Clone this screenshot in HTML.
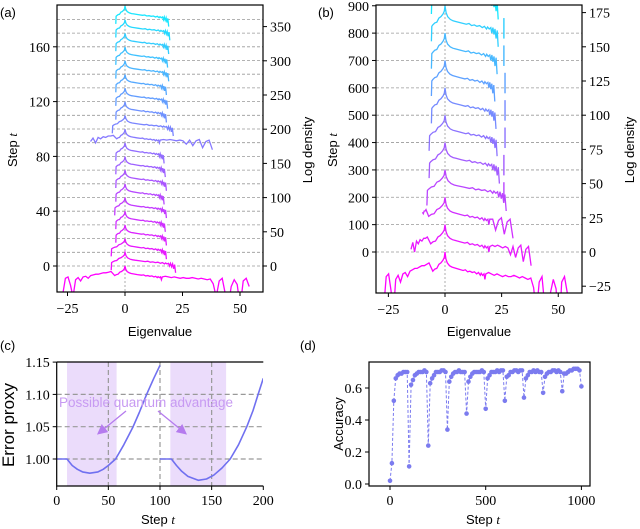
<!DOCTYPE html>
<html><head><meta charset="utf-8"><style>
html,body{margin:0;padding:0;background:#fff;}
svg{display:block;}
.tk{font-family:"Liberation Serif",serif;font-size:14px;fill:#000;}
.lb{font-family:"Liberation Sans",sans-serif;font-size:13px;fill:#000;}
</style></head><body>
<svg id="fig" width="640" height="529" viewBox="0 0 640 529" xmlns="http://www.w3.org/2000/svg">
<defs>
<clipPath id="clipA"><rect x="57" y="5" width="206" height="287"/></clipPath>
<clipPath id="clipB"><rect x="376" y="5" width="206" height="288"/></clipPath>
<clipPath id="clipC"><rect x="57" y="362" width="206" height="124"/></clipPath>
<marker id="arr" markerWidth="8" markerHeight="8" refX="6" refY="4" orient="auto"><path d="M0,0 L8,4 L0,8 z" fill="#b57bee"/></marker>
</defs>
<text class="lb" x="0" y="17">(a)</text>
<text class="lb" x="318" y="17">(b)</text>
<text class="lb" x="0" y="350">(c)</text>
<text class="lb" x="300" y="350">(d)</text>
<g id="pa"></g>
<g id="pb"></g>
<g id="pc"></g>
<g id="pd"></g>
</svg>
<script>
// ---------- data ----------
const leftTplV = [1, 0.97, 0.9, 0.75, 0.6, 0.45, 0.3, 0.15, 0.05, 0];
const leftTplVal = [-26, -15, -14, -12.5, -12, -9, -8, -6, -4, 0];
const rightTplU = [0,0.02,0.05,0.1,0.15,0.2,0.3,0.4,0.45,0.5,0.55,0.6,0.65,0.7,0.74,0.78,0.8,0.83,0.86,0.88,0.9,0.92,0.94,0.96,0.98,1];
const rightTplVal = [0,-5,-8,-10,-11,-11.5,-12.5,-13.5,-13,-14.5,-14,-15,-14.5,-16,-15,-17,-15.5,-17,-16,-20,-16,-21,-17,-24,-18,-30];
// panel a curves: left edge, right edge
const aL = [-5,-6,-6,-4,-4,-4.5,-4,-4,-4,-4,-4,-5.5,-4,-4,-4,-4,-4,-4,-4,-4];
const aR = [18,22,18,18,17.5,18,17,18,17.5,17,17,21,18,18.5,18,19,18.5,19,19.5,19];
const aTailL0 = [-27,null,null,null,null,null,null,null,null,null,-15,null,null,null,null,null,null,null,null,null];
const aTailR1 = [54,null,null,null,null,null,null,null,null,null,38,null,null,null,null,null,null,null,null,null];
const tailLeftWide = [-40,-18,-16,-28,-45,-20,-17,-22,-16,-15,-18,-14,-13,-12,-12,-11,-10,-10,-9,-8];
const tailRightWide = [-15,-16,-17,-16,-17,-18,-17,-18,-18,-17,-18,-19,-18,-19,-20,-19,-26,-45,-22,-18,-40,-60,-30,-20,-27,-60,-22,-18,-30];
const tailLeftMid = [-18,-13,-20,-12,-14,-11,-12,-10,-10,-9];
const tailRightMid = [-15,-16,-15,-16,-17,-16,-17,-22,-16,-24,-17,-15,-27,-18,-16,-30];
// panel b curves
const bL = [-6,-7,-8,-8,-7,-7,-6,-6,-6,-6,-6];
const bR = [20,22,22,27,24,23,22.5,22,23,23.5,23.5];
const bTailL0 = [-27,-15,-10,null,null,null,null,null,null,null,null];
const bTailR1 = [54,38,30,null,null,null,null,null,null,null,null];
const bSpike = [null,null,null,26,26,26.5,26.5,26.5,26,26,null];
// panel c
const c1T = [0,10,15,20,25,32,40,45,50,57,65,74,80,87,94,100];
const c1V = [1,1,0.99,0.984,0.98,0.978,0.98,0.984,0.99,1,1.022,1.05,1.072,1.1,1.125,1.145];
const c2T = [100,111,116,121,127,137,145,152,160,168,176,184,190,195,200];
const c2V = [1,1,0.99,0.981,0.973,0.967,0.969,0.975,0.986,1,1.022,1.05,1.075,1.1,1.125];
const cXTicks = [0,50,100,150,200];
const cYTicks = [1.00,1.05,1.10,1.15];
const cYLabels = ["1.00","1.05","1.10","1.15"];
const cShade = [[10,58],[110,164]];
// panel d
const dAcc = [
0.02,0.13,0.52,0.66,0.68,0.69,0.69,0.70,0.70,0.70,
0.11,0.62,0.65,0.68,0.69,0.70,0.70,0.70,0.71,0.70,
0.24,0.63,0.66,0.68,0.70,0.70,0.70,0.71,0.71,0.70,
0.34,0.64,0.67,0.69,0.70,0.70,0.71,0.70,0.70,0.70,
0.44,0.64,0.67,0.69,0.70,0.70,0.70,0.70,0.71,0.70,
0.47,0.66,0.68,0.70,0.70,0.70,0.71,0.70,0.71,0.71,
0.52,0.67,0.68,0.70,0.70,0.71,0.71,0.70,0.71,0.71,
0.54,0.66,0.68,0.70,0.70,0.71,0.70,0.71,0.70,0.70,
0.57,0.67,0.69,0.70,0.70,0.71,0.71,0.70,0.71,0.70,
0.58,0.69,0.69,0.70,0.71,0.71,0.72,0.72,0.72,0.71,
0.61];
const dXTicks = [0,500,1000];
const dYTicks = [0,0.2,0.4,0.6];
const aLeftTicks = [0,40,80,120,160];
const aRightTicks = [0,50,100,150,200,250,300,350];
const bLeftTicks = [0,100,200,300,400,500,600,700,800,900];
const bRightTicks = [-25,0,25,50,75,100,125,150,175];
const eigTicks = [-25,0,25,50];

// ---------- helpers ----------
const NS="http://www.w3.org/2000/svg";
function mk(tag, attrs, parent){const e=document.createElementNS(NS,tag);for(const k in attrs)e.setAttribute(k,attrs[k]);parent.appendChild(e);return e;}
function col(k,n){const t=k/(n-1)*0.9;return `rgb(${Math.round(255*(1-t))},${Math.round(255*t)},255)`;}
function fmt(v){return v<0?"\u2212"+Math.abs(v):""+v;}

function curvePts(L,R,tl0,tr1,tailL,tailR,p){
  const pts=[];
  if(tl0!==null){const n=tailL.length;for(let i=0;i<n;i++){pts.push([tl0+(L-tl0)*i/n,p+tailL[i]]);}}
  for(let i=(tl0!==null?2:0);i<leftTplV.length;i++)pts.push([L*leftTplV[i],p+leftTplVal[i]]);
  const cut = tr1!==null?0.9:1.01;
  for(let i=1;i<rightTplU.length;i++){if(rightTplU[i]<=cut)pts.push([R*rightTplU[i],p+rightTplVal[i]]);}
  if(tr1!==null){const n=tailR.length;const s=R*0.9;for(let i=1;i<=n;i++)pts.push([s+(tr1-s)*i/n,p+tailR[i-1]]);}
  return pts;
}

function eigPanel(g,box,xs,ldY,stepY,leftTicks,rightTicks,gridSteps,Ls,Rs,TL,TR,spikes,clip,tails){
  gridSteps.forEach(s=>{const y=stepY(s);const l=mk('line',{x1:box[0],x2:box[1],y1:y,y2:y,stroke:'#999','stroke-width':0.8,'stroke-dasharray':'3,2'},g);
  
  });
  const v=mk('line',{x1:xs(0),x2:xs(0),y1:box[2],y2:box[3],stroke:'#999','stroke-width':0.8,'stroke-dasharray':'2,2'},g);
  
  
  const cg=mk('g',{'clip-path':`url(#${clip})`},g);
  const n=Ls.length;
  for(let k=0;k<n;k++){
    const p=20*k;
    const tl=tails[k]||[tailLeftWide,tailRightWide];
    const pts=curvePts(Ls[k],Rs[k],TL[k],TR[k],tl[0],tl[1],p);
    const d=pts.map((q,i)=>(i?'L':'M')+xs(q[0]).toFixed(1)+','+ldY(q[1]).toFixed(1)).join('');
    const path=mk('path',{d:d,fill:'none',stroke:col(k,n),'stroke-width':1.3},cg);
    
    
    if(spikes&&spikes[k]!==null){const sp=mk('line',{x1:xs(spikes[k]),x2:xs(spikes[k]),y1:ldY(p-9),y2:ldY(p-24),stroke:col(k,n),'stroke-width':1.4},cg);
      
      }
  }
  const fr=mk('rect',{x:box[0],y:box[2],width:box[1]-box[0],height:box[3]-box[2],fill:'none',stroke:'#000','stroke-width':1.2},g);
  
  
  leftTicks.forEach(s=>{const y=stepY(s);mk('line',{x1:box[0]-4,x2:box[0],y1:y,y2:y,stroke:'#000'},g);
    const t=mk('text',{x:box[0]-7,y:y+5,'text-anchor':'end',class:'tk'},g);t.textContent=s;
    
    });
  rightTicks.forEach(s=>{const y=ldY(s);mk('line',{x1:box[1],x2:box[1]+4,y1:y,y2:y,stroke:'#000'},g);
    const t=mk('text',{x:box[1]+7,y:y+5,class:'tk'},g);t.textContent=fmt(s);
    
    });
  eigTicks.forEach(e=>{const x=xs(e);mk('line',{x1:x,x2:x,y1:box[3],y2:box[3]+4,stroke:'#000'},g);
    const t=mk('text',{x:x,y:box[3]+21,'text-anchor':'middle',class:'tk'},g);t.textContent=fmt(e);
    
    });
}

// ---------- panel a ----------
(function(){
  const g=document.getElementById('pa');
  const xs=e=>125+e*2.3, ldY=l=>266-l*0.684, stepY=s=>266-s*1.37;
  const grid=[];for(let s=0;s<=180;s+=10)grid.push(s);
  const tails={10:[tailLeftMid,tailRightMid]};
  eigPanel(g,[57,263,5,292],xs,ldY,stepY,aLeftTicks,aRightTicks,grid,aL,aR,aTailL0,aTailR1,null,'clipA',tails);
  let t=mk('text',{x:160,y:336,'text-anchor':'middle',class:'lb'},g);t.textContent='Eigenvalue';
  
  
  t=mk('text',{x:0,y:0,'text-anchor':'middle',class:'lb',transform:'translate(17,150) rotate(-90)'},g);t.innerHTML='Step <tspan font-style="italic" font-family="Liberation Serif">t</tspan>';
  
  
  t=mk('text',{x:0,y:0,'text-anchor':'middle',class:'lb',transform:'translate(312,150) rotate(-90)'},g);t.textContent='Log density';
  
  
})();

// ---------- panel b ----------
(function(){
  const g=document.getElementById('pb');
  const xs=e=>445+e*2.265, ldY=l=>252-l*1.368, stepY=s=>252-s*0.2736;
  const grid=[];for(let s=0;s<=800;s+=100)grid.push(s);
  const tails={1:[tailLeftMid,tailRightMid],2:[tailLeftMid.slice(5),tailRightMid.slice(8)]};
  eigPanel(g,[376,582,5,293],xs,ldY,stepY,bLeftTicks,bRightTicks,grid,bL,bR,bTailL0,bTailR1,bSpike,'clipB',tails);
  let t=mk('text',{x:479,y:336,'text-anchor':'middle',class:'lb'},g);t.textContent='Eigenvalue';
  
  
  t=mk('text',{x:0,y:0,'text-anchor':'middle',class:'lb',transform:'translate(337,150) rotate(-90)'},g);t.innerHTML='Step <tspan font-style="italic" font-family="Liberation Serif">t</tspan>';
  
  
  t=mk('text',{x:0,y:0,'text-anchor':'middle',class:'lb',transform:'translate(634,150) rotate(-90)'},g);t.textContent='Log density';
  
  
})();

// ---------- panel c ----------
(function(){
  const g=document.getElementById('pc');
  const cx=t=>56.7+t*1.033, cy=v=>459-(v-1)*646;
  const box=[56.7,263.3,362,486];
  cShade.forEach(s=>{const r=mk('rect',{x:cx(s[0]),y:box[2],width:cx(s[1])-cx(s[0]),height:box[3]-box[2],fill:'#ebdcfb'},g);
    
    });
  [1.00,1.05,1.10].forEach(v=>{const l=mk('line',{x1:box[0],x2:box[1],y1:cy(v),y2:cy(v),stroke:'#999','stroke-width':1.2,'stroke-dasharray':'5,3'},g);
    
    });
  [50,100,150].forEach(v=>{const l=mk('line',{x1:cx(v),x2:cx(v),y1:box[2],y2:box[3],stroke:'#999','stroke-width':1.2,'stroke-dasharray':'5,3'},g);
    
    });
  const cg=mk('g',{'clip-path':'url(#clipC)'},g);
  [[c1T,c1V],[c2T,c2V]].forEach((s,i)=>{
    const d=s[0].map((t,j)=>(j?'L':'M')+cx(t).toFixed(1)+','+cy(s[1][j]).toFixed(1)).join('');
    const p=mk('path',{d:d,fill:'none',stroke:'#7070f0','stroke-width':1.6,'stroke-linejoin':'round'},cg);
    
    });
  let t=mk('text',{x:146,y:407,'text-anchor':'middle','font-family':'Liberation Sans,sans-serif','font-size':'13.5',fill:'#c79af2'},g);t.textContent='Possible quantum advantage';
  
  
  let a=mk('line',{x1:126,y1:411,x2:99,y2:433,stroke:'#b57bee','stroke-width':1.3,'marker-end':'url(#arr)'},g);
  
  
  a=mk('line',{x1:158,y1:411,x2:185,y2:433,stroke:'#b57bee','stroke-width':1.3,'marker-end':'url(#arr)'},g);
  
  
  const fr=mk('path',{d:`M${box[0]},${box[2]}V${box[3]}H${box[1]}`,fill:'none',stroke:'#000','stroke-width':1.2},g);
  
  
  mk('line',{x1:box[0],x2:box[1],y1:box[2],y2:box[2],stroke:'#000','stroke-width':1.2},g);
  cXTicks.forEach(v=>{const x=cx(v);mk('line',{x1:x,x2:x,y1:box[3],y2:box[3]+4,stroke:'#000'},g);
    const tt=mk('text',{x:x,y:box[3]+19,'text-anchor':'middle',class:'tk'},g);tt.textContent=v;
    
    });
  cYTicks.forEach((v,i)=>{const y=cy(v);mk('line',{x1:box[0]-4,x2:box[0],y1:y,y2:y,stroke:'#000'},g);
    const tt=mk('text',{x:box[0]-7,y:y+5,'text-anchor':'end',class:'tk'},g);tt.textContent=cYLabels[i];
    
    });
  t=mk('text',{x:0,y:0,'text-anchor':'middle','font-family':'Liberation Sans,sans-serif','font-size':'17',transform:'translate(14,425) rotate(-90)'},g);t.textContent='Error proxy';
  
  
  t=mk('text',{x:158,y:524,'text-anchor':'middle',class:'lb'},g);t.innerHTML='Step <tspan font-style="italic" font-family="Liberation Serif">t</tspan>';
  
  
})();

// ---------- panel d ----------
(function(){
  const g=document.getElementById('pd');
  const dx=t=>390+t*0.1914, dy=v=>484-v*160;
  const box=[369,590,362,486];
  const d=dAcc.map((v,i)=>(i?'L':'M')+dx(i*10).toFixed(1)+','+dy(v).toFixed(1)).join('');
  const p=mk('path',{d:d,fill:'none',stroke:'#7b7bef','stroke-width':1,'stroke-dasharray':'3,2'},g);
  
  
  dAcc.forEach((v,i)=>{const c=mk('circle',{cx:dx(i*10),cy:dy(v),r:2.3,fill:'#7b7bef'},g);
    
    });
  const fr=mk('rect',{x:box[0],y:box[2],width:box[1]-box[0],height:box[3]-box[2],fill:'none',stroke:'#000','stroke-width':1.2},g);
  
  
  dXTicks.forEach(v=>{const x=dx(v);mk('line',{x1:x,x2:x,y1:box[3],y2:box[3]+4,stroke:'#000'},g);
    const tt=mk('text',{x:x,y:box[3]+19,'text-anchor':'middle',class:'tk'},g);tt.textContent=v;
    
    });
  dYTicks.forEach(v=>{const y=dy(v);mk('line',{x1:box[0]-4,x2:box[0],y1:y,y2:y,stroke:'#000'},g);
    const tt=mk('text',{x:box[0]-7,y:y+5,'text-anchor':'end',class:'tk'},g);tt.textContent=v.toFixed(1);
    
    });
  let t=mk('text',{x:0,y:0,'text-anchor':'middle',class:'lb',transform:'translate(343,424) rotate(-90)'},g);t.textContent='Accuracy';
  
  
  t=mk('text',{x:483,y:524,'text-anchor':'middle',class:'lb'},g);t.innerHTML='Step <tspan font-style="italic" font-family="Liberation Serif">t</tspan>';
  
  
})();
</script>
</body></html>
